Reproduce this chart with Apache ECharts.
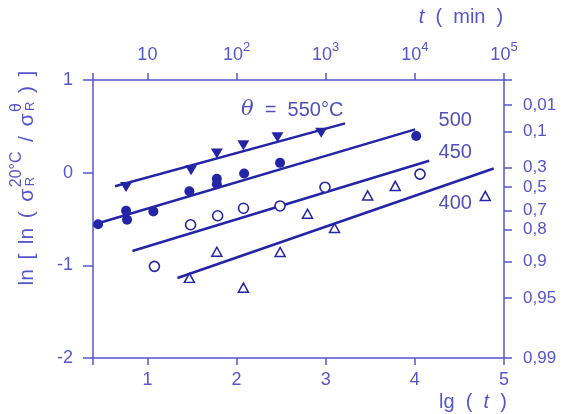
<!DOCTYPE html>
<html><head><meta charset="utf-8">
<script src="https://cdn.jsdelivr.net/npm/echarts@6/dist/echarts.min.js"></script>
<style>html,body{margin:0;padding:0;background:#fff}#c{width:562px;height:414px}</style>
</head><body><div id="c"></div>
<script>
// ---- data (lg t , ln[ln(...)]) ----
const s550 = [[0.761,-0.154],[1.490,0.027],[1.779,0.208],[2.077,0.297],[2.459,0.381],[2.950,0.430]];
const s500 = [[0.447,-0.557],[0.761,-0.411],[0.772,-0.508],[1.067,-0.418],[1.471,-0.200],[1.779,-0.065],[1.779,-0.124],[2.085,-0.009],[2.488,0.106],[4.015,0.395]];
const s450 = [[1.079,-1.011],[1.485,-0.562],[1.788,-0.465],[2.078,-0.384],[2.488,-0.359],[2.992,-0.157],[4.058,-0.016]];
const s400 = [[1.471,-1.135],[1.779,-0.854],[2.077,-1.241],[2.489,-0.856],[2.796,-0.443],[3.099,-0.597],[3.471,-0.246],[3.780,-0.143],[4.790,-0.251]];
// fitted lines (end points)
const fit550 = [[0.637,-0.146],[3.218,0.532]];
const fit500 = [[0.447,-0.546],[4.004,0.467]];
const fit450 = [[0.832,-0.845],[4.161,0.128]];
const fit400 = [[1.337,-1.137],[4.884,0.045]];
// axes
const xMin = 0.39, xMax = 5;
const yMin = -2, yMax = 1;
const lgTicks = [1,2,3,4,5];
const tExp = [1,2,3,4,5];
const yTicks = [-2,-1,0,1];
const probPos = [0.730,0.441,0.056,-0.154,-0.411,-0.614,-0.957,-1.354,-2];
const probLabels = ['0,01','0,1','0,3','0,5','0,7','0,8','0,9','0,95','0,99'];
// curve annotations
const curveNames = ['550','500','450','400'];
const curveLabelPos = [[2.624,0.676],[4.453,0.568],[4.453,0.222],[4.453,-0.330]];

const axisColor = '#5656cc';
const dataColor = '#2424a6';
const FF = '"Liberation Sans", Arial, sans-serif';

const chart = echarts.init(document.getElementById('c'), null, {renderer:'canvas'});

// build rotated y-axis title
function yTitle(cx, cy, target) {
  const cv = document.createElement('canvas').getContext('2d');
  const mainF = '21px ' + FF, supF = '16px ' + FF, subF = '13px ' + FF;
  const meas = (t,f) => { cv.font = f; return cv.measureText(t).width; };
  const items = [
    {m:'ln'}, {m:'['}, {m:'ln'}, {m:'('}, {m:'σ'}, {sup:'20°C', sub:'R'}, {m:'/'},
    {m:'σ'}, {sup:'θ', sub:'R'}, {m:')'}, {m:']'}
  ];
  let W = 0;
  items.forEach(it => {
    it.w = it.m ? meas(it.m, mainF) : Math.max(meas(it.sup, supF), meas(it.sub, subF));
    W += it.w;
  });
  const gap = (target - W) / (items.length - 1);
  let x = -target/2;
  const children = [];
  items.forEach((it, i) => {
    if (it.m) {
      children.push({type:'text', x:x, y:0, style:{text:it.m, font:mainF, fill:axisColor, textAlign:'left'}});
    } else {
      children.push({type:'text', x:x, y:-8, style:{text:it.sup, font:supF, fill:axisColor, textAlign:'left'}});
      children.push({type:'text', x:x+1, y:7, style:{text:it.sub, font:subF, fill:axisColor, textAlign:'left'}});
    }
    x += it.w + (i < items.length-1 ? (it.m==='σ' ? 1.5 : gap) : 0);
  });
  return {type:'group', x:cx, y:cy, rotation:Math.PI/2, children};
}

const option = {
  backgroundColor:'#fff',
  animation:false,
  grid:{left:93, right:58, top:80, bottom:56},
  xAxis:[
    {type:'value', position:'bottom', min:xMin, max:xMax,
     axisLine:{onZero:false, lineStyle:{color:axisColor, width:1.5}},
     axisTick:{customValues:[xMin].concat(lgTicks), length:7, lineStyle:{color:axisColor, width:1.5}},
     axisLabel:{customValues:lgTicks, margin:13, color:axisColor, fontSize:18, fontFamily:FF},
     splitLine:{show:false}},
    {type:'value', position:'top', min:xMin, max:xMax,
     axisLine:{onZero:false, lineStyle:{color:axisColor, width:1.5}},
     axisTick:{customValues:[xMin].concat(tExp), length:7, lineStyle:{color:axisColor, width:1.5}},
     axisLabel:{customValues:tExp, margin:11, color:axisColor, fontFamily:FF,
       formatter: v => v === 1 ? '{b|10}' : '{b|10}{s|' + v + '}',
       rich:{b:{fontSize:18, lineHeight:28, fontFamily:FF, color:axisColor},
             s:{fontSize:13, lineHeight:12, verticalAlign:'top', fontFamily:FF, color:axisColor}}},
     splitLine:{show:false}}
  ],
  yAxis:[
    {type:'value', position:'left', min:yMin, max:yMax,
     axisLine:{show:true, onZero:false, lineStyle:{color:axisColor, width:1.5}},
     axisTick:{show:true, customValues:yTicks, length:10, lineStyle:{color:axisColor, width:1.5}},
     axisLabel:{customValues:yTicks, margin:20, color:axisColor, fontSize:18, fontFamily:FF},
     splitLine:{show:false}},
    {type:'value', position:'right', min:yMin, max:yMax,
     axisLine:{show:true, onZero:false, lineStyle:{color:axisColor, width:1.5}},
     axisTick:{show:true, customValues:[yMax].concat(probPos), length:8, lineStyle:{color:axisColor, width:1.5}},
     axisLabel:{customValues:probPos, margin:19, color:axisColor, fontSize:17, fontFamily:FF,
       formatter: v => probLabels[probPos.indexOf(v)]},
     splitLine:{show:false}}
  ],
  series:[
    {type:'line', data:fit550, symbol:'none', lineStyle:{color:dataColor, width:2.5}, z:2, silent:true},
    {type:'line', data:fit500, symbol:'none', lineStyle:{color:dataColor, width:2.5}, z:2, silent:true},
    {type:'line', data:fit450, symbol:'none', lineStyle:{color:dataColor, width:2.5}, z:2, silent:true},
    {type:'line', data:fit400, symbol:'none', lineStyle:{color:dataColor, width:2.5}, z:2, silent:true},
    {type:'scatter', data:s550, symbol:'triangle', symbolRotate:180, symbolSize:[12,10], itemStyle:{color:dataColor, opacity:1}, z:3},
    {type:'scatter', data:s500, symbol:'circle', symbolSize:10, itemStyle:{color:dataColor, opacity:1}, z:3},
    {type:'scatter', data:s450, symbol:'circle', symbolSize:10, itemStyle:{color:'#fff', borderColor:dataColor, borderWidth:1.6, opacity:1}, z:3},
    {type:'scatter', data:s400, symbol:'triangle', symbolSize:[10,9], itemStyle:{color:'#fff', borderColor:dataColor, borderWidth:1.5, opacity:1}, z:3},
    {type:'scatter', symbolSize:0, z:4, silent:true,
     data: curveNames.map((n,i) => ({name:n, value:curveLabelPos[i]})),
     label:{show:true, position:'inside', color:dataColor, fontFamily:FF, fontSize:20,
       formatter: p => p.dataIndex === 0 ? '{i|θ}  =  ' + p.name + '°C' : p.name,
       rich:{i:{fontStyle:'italic', fontSize:21, fontFamily:'"DejaVu Serif", serif', color:dataColor}}}}
  ],
  graphic:[
    yTitle(17, 170, 231),
    {type:'text', x:461, y:17, style:{text:'{i|t}  (  min  )', font:'20px '+FF, fill:axisColor, textAlign:'center', textVerticalAlign:'middle',
      rich:{i:{fontStyle:'italic', fontSize:20, fontFamily:FF, fill:axisColor}}}},
    {type:'text', x:473, y:402, style:{text:'lg  (  {i|t}  )', font:'20px '+FF, fill:axisColor, textAlign:'center', textVerticalAlign:'middle',
      rich:{i:{fontStyle:'italic', fontSize:20, fontFamily:FF, fill:axisColor}}}}
  ]
};
chart.setOption(option);
</script>
</body></html>
